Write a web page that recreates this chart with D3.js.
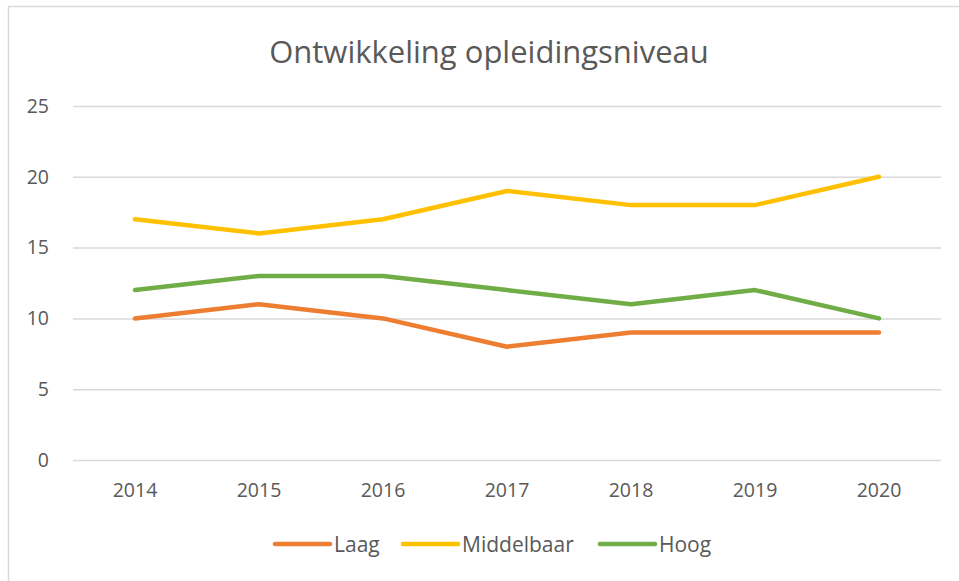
<!DOCTYPE html>
<html>
<head>
<meta charset="utf-8">
<script src="https://cdn.jsdelivr.net/npm/d3@7"></script>
<style>
  body { margin: 0; background: #fff; }
  text { font-family: "Open Sans", "Liberation Sans", sans-serif; fill: #595959; }
</style>
</head>
<body>
<svg id="chart" width="959" height="581"></svg>
<script>
// data
const years = ['2014', '2015', '2016', '2017', '2018', '2019', '2020'];
const laag = [10, 11, 10, 8, 9, 9, 9];
const middelbaar = [17, 16, 17, 19, 18, 18, 20];
const hoog = [12, 13, 13, 12, 11, 12, 10];
const yTicks = [0, 5, 10, 15, 20, 25];

const series = [
  { name: 'Laag', values: laag, color: '#ED7D31' },
  { name: 'Middelbaar', values: middelbaar, color: '#FFC000' },
  { name: 'Hoog', values: hoog, color: '#70AD47' }
];

const svg = d3.select('#chart');

// outer frame of the chart
svg.append('rect')
  .attr('x', 8.5).attr('y', 6.5)
  .attr('width', 960).attr('height', 580)
  .attr('fill', 'none')
  .attr('stroke', '#D9D9D9')
  .attr('stroke-width', 1.5);

const plot = { left: 73, right: 941, top: 106, bottom: 460 };

const x = d3.scaleBand()
  .domain(years)
  .range([plot.left, plot.right]);

const y = d3.scaleLinear()
  .domain([0, 25])
  .range([plot.bottom, plot.top]);

// title
svg.append('text')
  .attr('x', 489)
  .attr('y', 63)
  .attr('text-anchor', 'middle')
  .style('font-size', '31px')
  .text('Ontwikkeling opleidingsniveau');

// horizontal gridlines + y labels
const yAxis = d3.axisLeft(y)
  .tickValues(yTicks)
  .tickSize(-(plot.right - plot.left))
  .tickPadding(24);

svg.append('g')
  .attr('transform', `translate(${plot.left},0)`)
  .call(yAxis)
  .call(g => g.select('.domain').remove())
  .call(g => g.selectAll('.tick line').attr('stroke', '#D9D9D9').attr('stroke-width', 1.5))
  .call(g => g.selectAll('.tick text')
    .style('font-size', '19.5px')
    .style('font-family', '"Open Sans", sans-serif')
    .attr('fill', '#595959'));

// x labels
const xAxis = d3.axisBottom(x).tickSize(0).tickPadding(23);
svg.append('g')
  .attr('transform', `translate(0,${plot.bottom})`)
  .call(xAxis)
  .call(g => g.select('.domain').remove())
  .call(g => g.selectAll('.tick text')
    .style('font-size', '19.5px')
    .style('font-family', '"Open Sans", sans-serif')
    .attr('fill', '#595959'));

// lines
const line = d3.line()
  .x((d, i) => x(years[i]) + x.bandwidth() / 2)
  .y(d => y(d));

svg.append('g')
  .selectAll('path')
  .data(series)
  .enter()
  .append('path')
    .attr('d', d => line(d.values))
    .attr('fill', 'none')
    .attr('stroke', d => d.color)
    .attr('stroke-width', 4.5)
    .attr('stroke-linecap', 'round')
    .attr('stroke-linejoin', 'round');

// legend
const legendX = [275, 403, 600];
const legend = svg.append('g')
  .selectAll('g')
  .data(series)
  .enter()
  .append('g')
    .attr('transform', (d, i) => `translate(${legendX[i]}, 544)`);

legend.append('line')
  .attr('x1', 0).attr('x2', 55)
  .attr('stroke', d => d.color)
  .attr('stroke-width', 4.5)
  .attr('stroke-linecap', 'round');

legend.append('text')
  .attr('x', 59)
  .attr('y', 7.5)
  .style('font-size', '21px')
  .text(d => d.name);
</script>
</body>
</html>
